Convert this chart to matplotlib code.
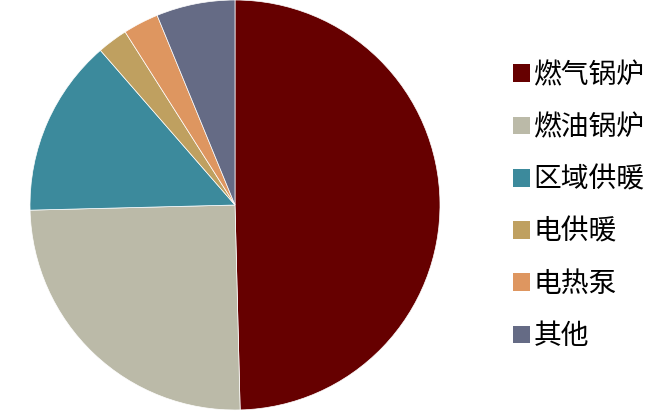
import matplotlib
matplotlib.use("Agg")
import matplotlib.pyplot as plt
from matplotlib.patches import Patch

plt.rcParams['font.family'] = ['Noto Sans CJK SC', 'DejaVu Sans']

labels = ['燃气锅炉', '燃油锅炉', '区域供暖', '电供暖', '电热泵', '其他']
values = [49.6, 25.0, 14.0, 2.4, 2.8, 6.2]
colors = ['#660000', '#BBBAA8', '#3C8A9C', '#BFA060', '#DE9660', '#656B85']

fig = plt.figure(figsize=(6.49, 4.18), dpi=100)
ax = fig.add_axes([30/649, 8/418, 410/649, 410/418])
ax.pie(values, colors=colors, startangle=90, counterclock=False, radius=1,
       wedgeprops=dict(edgecolor='white', linewidth=0.5))
ax.set_xlim(-1, 1)
ax.set_ylim(-1, 1)
ax.set_aspect('equal')
ax.axis('off')

handles = [Patch(facecolor=c, edgecolor='none') for c in colors]
fig.legend(handles, labels, loc='center left', bbox_to_anchor=(499/649, 0.508),
           frameon=False, prop={'size': 20, 'weight': 'medium'},
           labelspacing=0.8, handlelength=0.6, handleheight=0.6,
           handletextpad=0.15, borderpad=0.0)

fig.savefig('out.png', dpi=100)
